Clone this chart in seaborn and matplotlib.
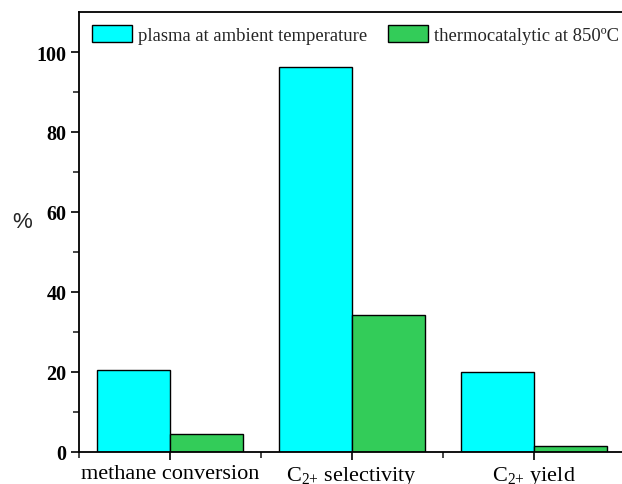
import matplotlib
matplotlib.use("Agg")
import matplotlib.pyplot as plt
import seaborn as sns
import pandas as pd
from matplotlib.ticker import FixedLocator

categories = ["methane conversion", "C$_{2{+}}$ selectivity", "C$_{2{+}}$ yield"]
series_names = ["plasma at ambient temperature", "thermocatalytic at 850ºC"]
plasma = [20.5, 96.3, 20.0]
thermo = [4.5, 34.3, 1.6]

df = pd.DataFrame({
    "category": categories * 2,
    "series": [series_names[0]] * 3 + [series_names[1]] * 3,
    "value": plasma + thermo,
})

sns.set_style("ticks")
plt.rcParams["font.family"] = ["Liberation Serif", "DejaVu Serif"]
plt.rcParams["mathtext.fontset"] = "custom"
plt.rcParams["mathtext.rm"] = "Liberation Serif"
plt.rcParams["mathtext.it"] = "Liberation Serif:italic"
plt.rcParams["mathtext.bf"] = "Liberation Serif:bold"

fig = plt.figure(figsize=(6.22, 4.85), dpi=100)
ax = fig.add_axes([79 / 622, 1 - 453 / 485, 546 / 622, 440 / 485])

palette = {series_names[0]: "#00FFFF", series_names[1]: "#33CC59"}
sns.barplot(data=df, x="category", y="value", hue="series", order=categories,
            hue_order=series_names, palette=palette, edgecolor="black",
            linewidth=1.0, width=0.8, saturation=1, ax=ax, errorbar=None)

ax.set_xlim(-0.5, 2.5)
ax.set_ylim(0, 110)
ax.yaxis.set_major_locator(FixedLocator([0, 20, 40, 60, 80, 100]))
ax.yaxis.set_minor_locator(FixedLocator([10, 30, 50, 70, 90]))
ax.xaxis.set_minor_locator(FixedLocator([-0.5, 0.5, 1.5, 2.5]))
ax.tick_params(axis="both", which="major", direction="out", length=6, width=1.2, colors="black")
ax.tick_params(axis="both", which="minor", direction="out", length=4, width=1.2)
ax.tick_params(axis="y", labelsize=14.5, pad=3)
for lab in ax.get_yticklabels():
    lab.set_fontweight("bold")
ax.tick_params(axis="x", labelsize=16, pad=3)
ax.set_xlabel("")
ax.set_ylabel("%", family=["Liberation Sans"], fontsize=16, rotation=0, va="center", ha="center")
ax.yaxis.set_label_coords(-0.104, 0.523)
for s in ["left", "bottom", "top", "right"]:
    ax.spines[s].set_visible(True)
    ax.spines[s].set_linewidth(1.3)
    ax.spines[s].set_color("black")

leg = ax.legend(loc="upper left", bbox_to_anchor=(0.0, 1.0), ncol=2, frameon=False,
                fontsize=13.4, handlelength=2.15, handleheight=1.0, columnspacing=1.15,
                handletextpad=0.3, borderaxespad=0.3, borderpad=0.4)
for h in leg.legend_handles:
    h.set_edgecolor("black")
    h.set_linewidth(1.0)

fig.savefig("out.png", dpi=100)
